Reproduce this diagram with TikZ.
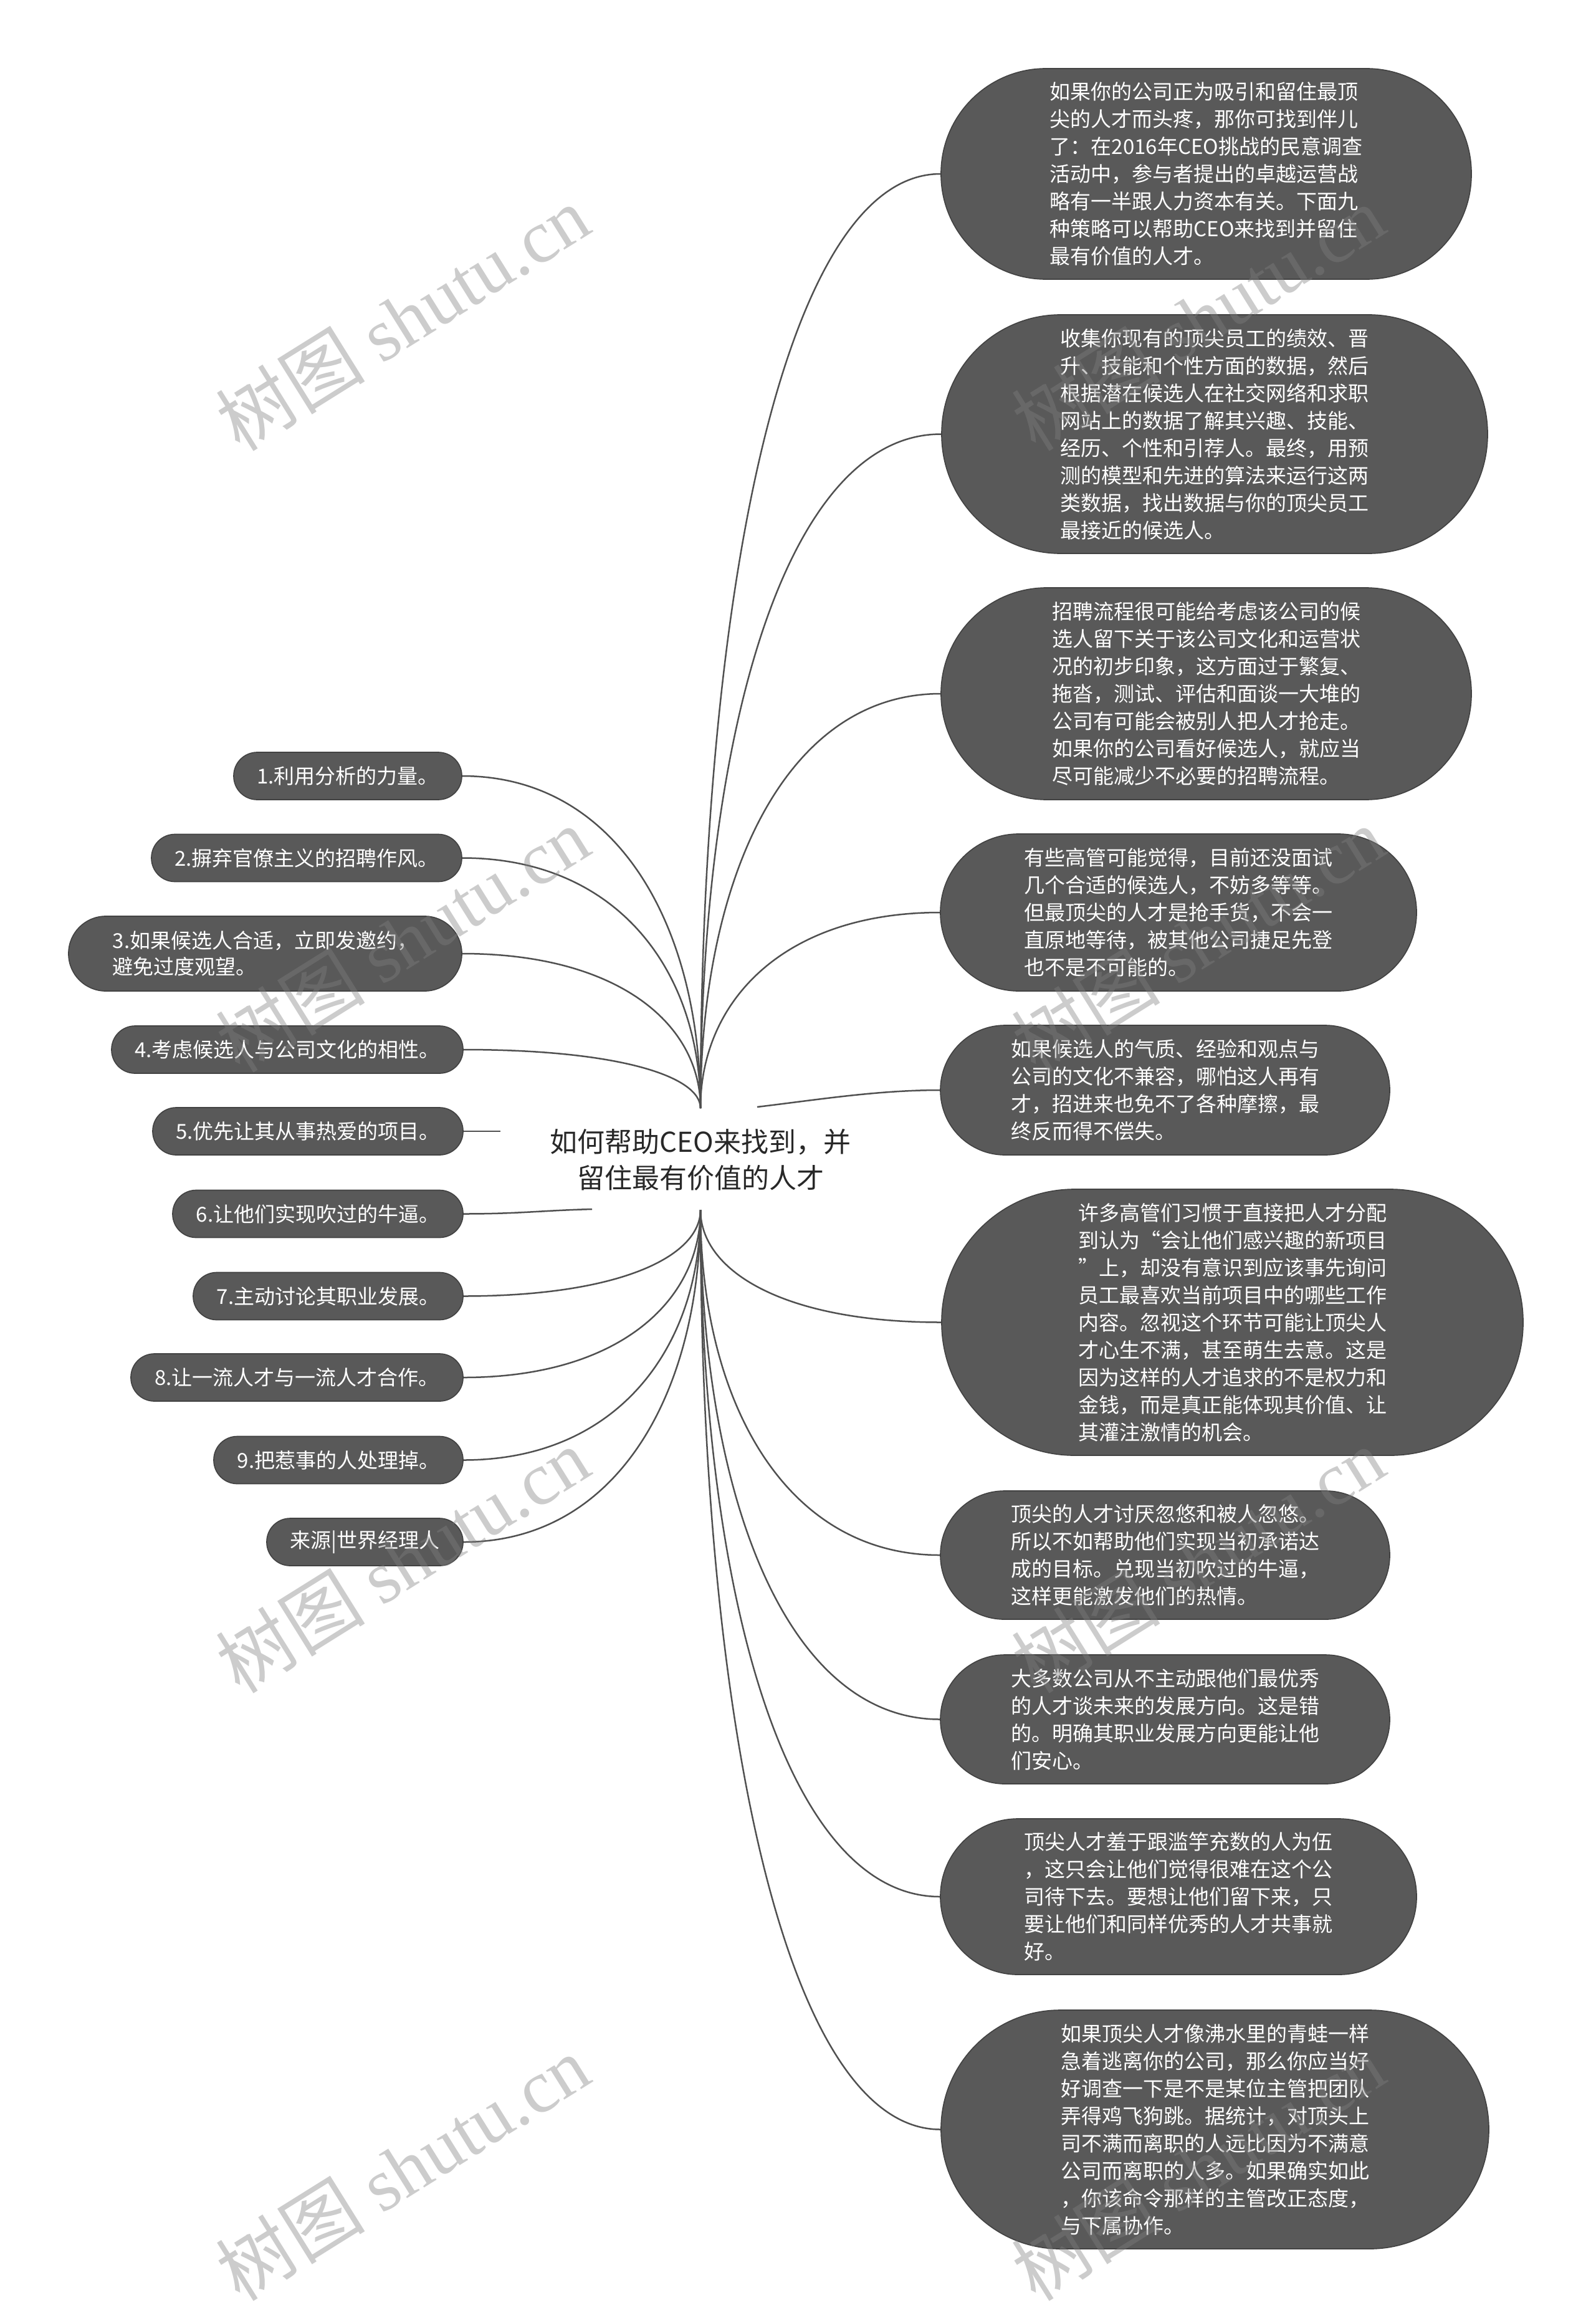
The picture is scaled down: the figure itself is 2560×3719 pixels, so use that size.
\documentclass[tikz,border=0pt]{standalone}
\usepackage{fontspec}
\setmainfont{Noto Sans CJK SC}
\newfontfamily\wmlat{Liberation Serif}
\usetikzlibrary{calc}
\definecolor{boxfill}{RGB}{89,89,89}
\definecolor{boxline}{RGB}{66,66,66}
\definecolor{linec}{RGB}{80,80,80}
\definecolor{wmc}{RGB}{128,128,128}
\definecolor{ctext}{RGB}{40,40,40}
\tikzset{
  box/.style={draw=boxline, line width=0.5pt, fill=boxfill, text=white,
    font=\fontsize{9.9pt}{13.2pt}\selectfont, align=left, inner sep=0pt},
  lbox/.style={box, minimum height=22.8pt, rounded corners=11.3pt},
  conn/.style={draw=linec, line width=0.75pt},
  wm/.style={text=wmc, opacity=0.4, font=\fontsize{36pt}{40pt}\selectfont, rotate=32, inner sep=0pt}
}
\newcommand\mmconn[2]{\draw[conn] (#1) .. controls ($(#1)!0.55!(#1 |- #2)$) and ($(#1 |- #2)!0.35!(#2)$) .. (#2);}
\begin{document}
\begin{tikzpicture}[x=0.3pt, y=-0.3pt]
\fill[white] (0,0) rectangle (2560,3719);
\useasboundingbox (0,0) rectangle (2560,3719);

% centre
\node[text=ctext, font=\fontsize{13.2pt}{17.4pt}\selectfont, align=center, inner sep=0pt] (c) at (1124,1861) {如何帮助CEO来找到，并\\留住最有价值的人才};
\coordinate (ct) at (1124,1778);
\coordinate (cb) at (1124,1941);
\coordinate (c5) at (803,1815);
\coordinate (c6) at (950,1940);
\coordinate (cr5) at (1215,1776);

% right nodes
\node[box, minimum width=255.3pt, minimum height=101.4pt, rounded corners=50.5pt] (R1) at (1935.5,279) {如果你的公司正为吸引和留住最顶\\尖的人才而头疼，那你可找到伴儿\\了：在2016年CEO挑战的民意调查\\活动中，参与者提出的卓越运营战\\略有一半跟人力资本有关。下面九\\种策略可以帮助CEO来找到并留住\\最有价值的人才。};
\node[box, minimum width=262.8pt, minimum height=114.9pt, rounded corners=57.3pt] (R2) at (1949,696.5) {收集你现有的顶尖员工的绩效、晋\\升、技能和个性方面的数据，然后\\根据潜在候选人在社交网络和求职\\网站上的数据了解其兴趣、技能、\\经历、个性和引荐人。最终，用预\\测的模型和先进的算法来运行这两\\类数据，找出数据与你的顶尖员工\\最接近的候选人。};
\node[box, minimum width=255.3pt, minimum height=102pt, rounded corners=50.9pt] (R3) at (1935.5,1113) {招聘流程很可能给考虑该公司的候\\选人留下关于该公司文化和运营状\\况的初步印象，这方面过于繁复、\\拖沓，测试、评估和面谈一大堆的\\公司有可能会被别人把人才抢走。\\如果你的公司看好候选人，就应当\\尽可能减少不必要的招聘流程。};
\node[box, minimum width=229.2pt, minimum height=75.6pt, rounded corners=37.7pt] (R4) at (1891,1464) {有些高管可能觉得，目前还没面试\\几个合适的候选人，不妨多等等。\\但最顶尖的人才是抢手货，不会一\\直原地等待，被其他公司捷足先登\\也不是不可能的。};
\node[box, minimum width=216.3pt, minimum height=62.4pt, rounded corners=31.1pt] (R5) at (1869.5,1749) {如果候选人的气质、经验和观点与\\公司的文化不兼容，哪怕这人再有\\才，招进来也免不了各种摩擦，最\\终反而得不偿失。};
\node[box, minimum width=279.9pt, minimum height=128.1pt, rounded corners=63.9pt] (R6) at (1977.5,2121.5) {许多高管们习惯于直接把人才分配\\到认为“会让他们感兴趣的新项目\\”上，却没有意识到应该事先询问\\员工最喜欢当前项目中的哪些工作\\内容。忽视这个环节可能让顶尖人\\才心生不满，甚至萌生去意。这是\\因为这样的人才追求的不是权力和\\金钱，而是真正能体现其价值、让\\其灌注激情的机会。};
\node[box, minimum width=216.3pt, minimum height=61.8pt, rounded corners=30.8pt] (R7) at (1869.5,2495) {顶尖的人才讨厌忽悠和被人忽悠。\\所以不如帮助他们实现当初承诺达\\成的目标。兑现当初吹过的牛逼，\\这样更能激发他们的热情。};
\node[box, minimum width=216.3pt, minimum height=62.1pt, rounded corners=31pt] (R8) at (1869.5,2758.5) {大多数公司从不主动跟他们最优秀\\的人才谈未来的发展方向。这是错\\的。明确其职业发展方向更能让他\\们安心。};
\node[box, minimum width=229.2pt, minimum height=75pt, rounded corners=37.4pt] (R9) at (1891,3043) {顶尖人才羞于跟滥竽充数的人为伍\\，这只会让他们觉得很难在这个公\\司待下去。要想让他们留下来，只\\要让他们和同样优秀的人才共事就\\好。};
\node[box, minimum width=263.7pt, minimum height=114.9pt, rounded corners=57.3pt] (R10) at (1949.5,3416.5) {如果顶尖人才像沸水里的青蛙一样\\急着逃离你的公司，那么你应当好\\好调查一下是不是某位主管把团队\\弄得鸡飞狗跳。据统计，对顶头上\\司不满而离职的人远比因为不满意\\公司而离职的人多。如果确实如此\\，你该命令那样的主管改正态度，\\与下属协作。};

% left nodes
\node[lbox, minimum width=109.8pt] (L1) at (558,1245) {1.利用分析的力量。};
\node[lbox, minimum width=149.4pt] (L2) at (492,1376.5) {2.摒弃官僚主义的招聘作风。};
\node[box, minimum width=189.3pt, minimum height=36pt, rounded corners=17.9pt, font=\fontsize{9.9pt}{12.6pt}\selectfont] (L3) at (425.5,1530) {3.如果候选人合适，立即发邀约，\\避免过度观望。};
\node[lbox, minimum width=169.2pt] (L4) at (461,1684) {4.考虑候选人与公司文化的相性。};
\node[lbox, minimum width=149.4pt] (L5) at (494,1815) {5.优先让其从事热爱的项目。};
\node[lbox, minimum width=139.8pt] (L6) at (510,1947.5) {6.让他们实现吹过的牛逼。};
\node[lbox, minimum width=129.9pt] (L7) at (526.5,2079.5) {7.主动讨论其职业发展。};
\node[lbox, minimum width=159.9pt] (L8) at (476.5,2210) {8.让一流人才与一流人才合作。};
\node[lbox, minimum width=120pt] (L9) at (543,2342.5) {9.把惹事的人处理掉。};
\node[lbox, minimum width=94.5pt] (L10) at (585.5,2474) {来源|世界经理人};

% connectors
\mmconn{ct}{R1.west}
\mmconn{ct}{R2.west}
\mmconn{ct}{R3.west}
\mmconn{ct}{R4.west}
\draw[conn] (cr5) .. controls +(100,-12) and +(-100,0) .. (R5.west);
\mmconn{cb}{R6.west}
\mmconn{cb}{R7.west}
\mmconn{cb}{R8.west}
\mmconn{cb}{R9.west}
\mmconn{cb}{R10.west}
\mmconn{ct}{L1.east}
\mmconn{ct}{L2.east}
\mmconn{ct}{L3.east}
\mmconn{ct}{L4.east}
\draw[conn] (L5.east) -- (c5);
\draw[conn] (L6.east) .. controls +(90,0) and +(-80,2) .. (c6);
\mmconn{cb}{L7.east}
\mmconn{cb}{L8.east}
\mmconn{cb}{L9.east}
\mmconn{cb}{L10.east}

% watermarks
\node[wm] (w1) at (646,510) {树图 {\wmlat shutu.cn}};
\node[wm] (w2) at (1922,510) {树图 {\wmlat shutu.cn}};
\node[wm] (w3) at (646,1507) {树图 {\wmlat shutu.cn}};
\node[wm] (w4) at (1922,1507) {树图 {\wmlat shutu.cn}};
\node[wm] (w5) at (646,2503) {树图 {\wmlat shutu.cn}};
\node[wm] (w6) at (1922,2503) {树图 {\wmlat shutu.cn}};
\node[wm] (w7) at (646,3478) {树图 {\wmlat shutu.cn}};
\node[wm] (w8) at (1922,3478) {树图 {\wmlat shutu.cn}};
\end{tikzpicture}
\end{document}
